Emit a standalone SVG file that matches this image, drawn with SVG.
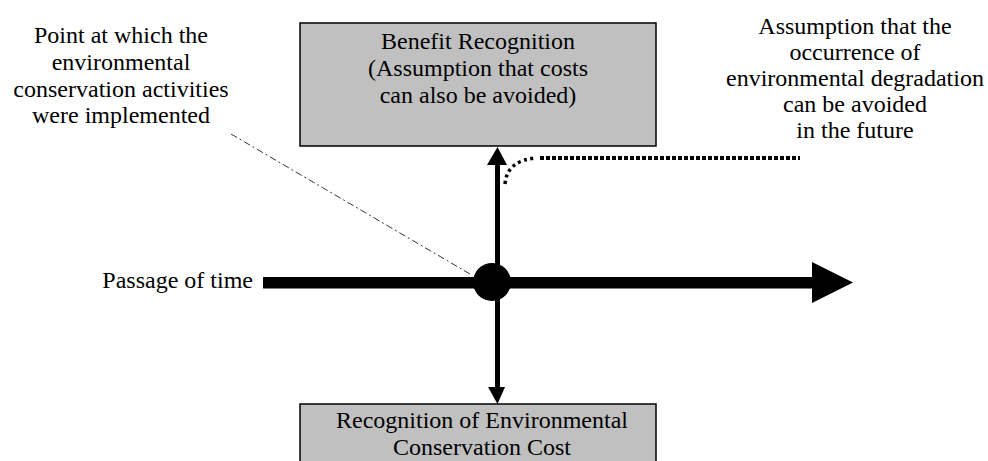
<svg xmlns="http://www.w3.org/2000/svg" width="988" height="461" viewBox="0 0 988 461">
  <style>
    .lbl { font-family: "Liberation Serif", "Times New Roman", serif; font-size: 24px; fill: #000; text-anchor: middle; }
    .box { fill: #c0c0c0; stroke: #000; stroke-width: 1.5; }
  </style>
  <rect width="988" height="461" fill="#fff"/>

  <!-- boxes -->
  <g id="benefit">
    <rect class="box" x="300" y="23" width="356" height="123"/>
    <text class="lbl" x="478" y="49">Benefit Recognition</text>
    <text class="lbl" x="478" y="76">(Assumption that costs</text>
    <text class="lbl" x="478" y="103">can also be avoided)</text>
  </g>
  <g id="cost">
    <rect class="box" x="300" y="404" width="356" height="70"/>
    <text class="lbl" x="482" y="428">Recognition of Environmental</text>
    <text class="lbl" x="482" y="455">Conservation Cost</text>
  </g>

  <!-- free labels -->
  <g id="point-label">
    <text class="lbl" x="121" y="43">Point at which the</text>
    <text class="lbl" x="121" y="70">environmental</text>
    <text class="lbl" x="121" y="97">conservation activities</text>
    <text class="lbl" x="121" y="123">were implemented</text>
  </g>
  <g id="future-label">
    <text class="lbl" x="855" y="34">Assumption that the</text>
    <text class="lbl" x="855" y="60">occurrence of</text>
    <text class="lbl" x="855" y="86">environmental degradation</text>
    <text class="lbl" x="855" y="112">can be avoided</text>
    <text class="lbl" x="855" y="138">in the future</text>
  </g>
  <g id="time-label">
    <text class="lbl" x="253" y="288" style="text-anchor:end">Passage of time</text>
  </g>

  <!-- connectors -->
  <g id="connectors">
    <!-- leader to the implementation point -->
    <line x1="231" y1="134" x2="470" y2="274" stroke="#333" stroke-width="1" stroke-dasharray="7 3 2 3"/>
    <!-- time axis -->
    <polygon points="263,277 812,277 812,262 853,282.5 812,303 812,288.5 263,288.5" fill="#000"/>
    <!-- vertical arrows -->
    <line x1="497.5" y1="163" x2="497.5" y2="390" stroke="#000" stroke-width="5"/>
    <polygon points="487,165 497.5,147 507,165" fill="#000"/>
    <polygon points="488,387 497.5,404 505,387" fill="#000"/>
    <!-- implementation point -->
    <circle cx="492" cy="282" r="19" fill="#000"/>
    <!-- future avoidance path -->
    <path d="M505,184 Q507,160 537,158" fill="none" stroke="#000" stroke-width="3.5" stroke-dasharray="3 3.5"/>
    <line x1="540" y1="158" x2="800" y2="158" stroke="#000" stroke-width="4" stroke-dasharray="4 2"/>
  </g>
</svg>
